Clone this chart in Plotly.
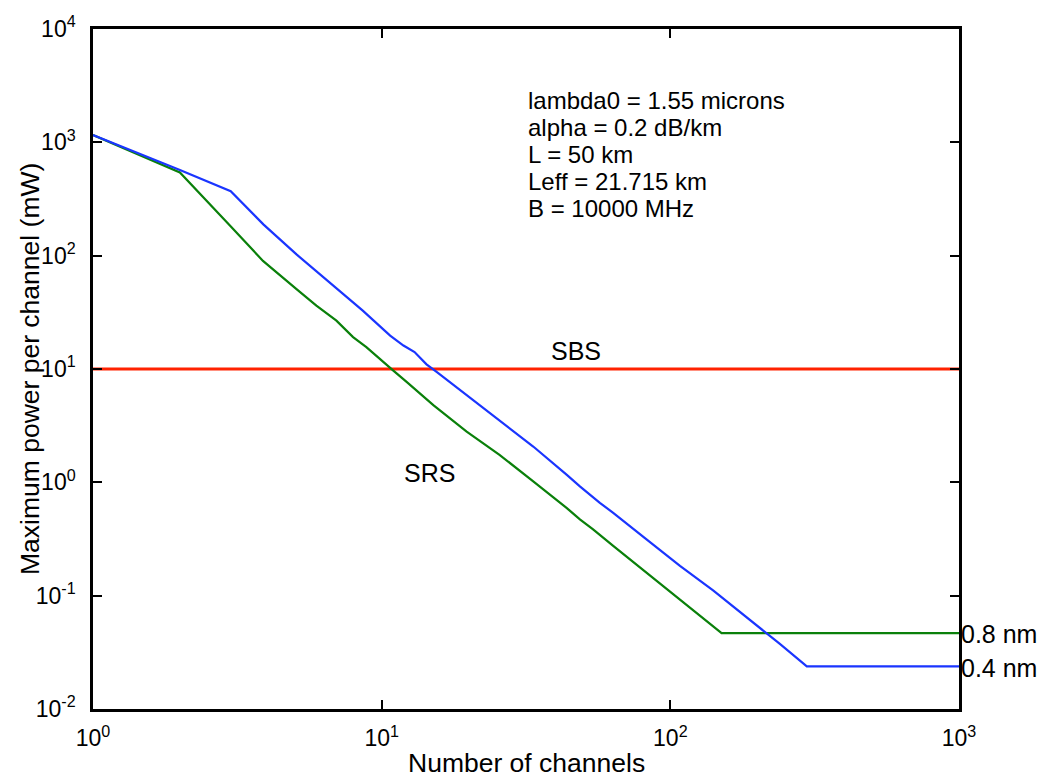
import plotly.graph_objects as go
import math

# Number of channels / max power per channel (mW)
n_04 = [1, 2, 3, 3.9, 5.07, 6.6, 8.6, 10.7, 11.9, 13.0, 14.3, 15.5, 19.7, 25.6,
        33.5, 43.7, 48.6, 57.0, 63.4, 82.7, 108, 141, 184, 239, 297, 1000]
p_04 = [1159, 571, 370, 188, 102.6, 58, 32.7, 19.7, 16.1, 14.1, 11.0, 9.41, 5.88, 3.55,
        2.07, 1.17, 0.922, 0.659, 0.538, 0.314, 0.183, 0.1106, 0.0645, 0.0377, 0.0238, 0.0238]

n_08 = [1, 2, 2.98, 3.88, 5.07, 5.94, 6.97, 7.96, 8.85, 10.1, 10.95, 12.2, 15.1, 19.7,
        25.6, 33.5, 43.7, 48.6, 54.0, 63.4, 82.7, 108, 133.5, 150.5, 1000]
p_08 = [1159, 542, 185, 89.8, 50.7, 36.2, 26.7, 19.1, 15.6, 11.5, 9.73, 7.69, 4.80, 2.80,
        1.75, 1.02, 0.596, 0.471, 0.385, 0.275, 0.159, 0.0935, 0.0604, 0.0468, 0.0468]

n_sbs = [1, 1000]
p_sbs = [10, 10]

x_ticks = [1, 10, 100, 1000]
x_tick_text = ["10<sup>0</sup>", "10<sup>1</sup>", "10<sup>2</sup>", "10<sup>3</sup>"]
y_ticks = [0.01, 0.1, 1, 10, 100, 1000, 10000]
y_tick_text = ["10<sup>-2</sup>", "10<sup>-1</sup>", "10<sup>0</sup>", "10<sup>1</sup>",
               "10<sup>2</sup>", "10<sup>3</sup>", "10<sup>4</sup>"]

info_lines = ["lambda0 = 1.55 microns", "alpha = 0.2 dB/km", "L = 50 km",
              "Leff = 21.715 km", "B = 10000 MHz"]
info_y = [2335, 1350, 780, 450, 260]  # data-space y of each info line

x_title = "Number of channels"
y_title = "Maximum power per channel (mW)"

FONT = "Liberation Sans"

fig = go.Figure()
fig.add_trace(go.Scatter(x=n_sbs, y=p_sbs, mode="lines",
                         line=dict(color="#ff2200", width=3), showlegend=False))
fig.add_trace(go.Scatter(x=n_08, y=p_08, mode="lines",
                         line=dict(color="#0a800a", width=2.2), showlegend=False))
fig.add_trace(go.Scatter(x=n_04, y=p_04, mode="lines",
                         line=dict(color="#1a35ff", width=2.2), showlegend=False))

txtfont = dict(size=25, color="black", family=FONT)
infofont = dict(size=24, color="black", family=FONT)
annotations = []
for txt, yv in zip(info_lines, info_y):
    annotations.append(dict(x=math.log10(31.8), y=math.log10(yv), xref="x", yref="y",
                            text=txt, showarrow=False, xanchor="left", yanchor="middle",
                            borderpad=0, font=infofont))
annotations += [
    dict(x=math.log10(47), y=math.log10(14.4), xref="x", yref="y", text="SBS",
         showarrow=False, font=txtfont),
    dict(x=math.log10(14.7), y=math.log10(1.2), xref="x", yref="y", text="SRS",
         showarrow=False, font=txtfont),
    dict(x=3.0, y=math.log10(0.0455), xref="x", yref="y", text="0.8 nm",
         showarrow=False, xanchor="left", yanchor="middle", font=txtfont),
    dict(x=3.0, y=math.log10(0.0232), xref="x", yref="y", text="0.4 nm",
         showarrow=False, xanchor="left", yanchor="middle", font=txtfont),
    # axis titles
    dict(x=0.5, y=-0.079, xref="paper", yref="paper", text=x_title, showarrow=False,
         xanchor="center", yanchor="middle",
         font=dict(size=26.5, color="black", family=FONT)),
    dict(x=-0.0727, y=0.5, xref="paper", yref="paper", text=y_title, showarrow=False,
         textangle=-90, xanchor="center", yanchor="middle",
         font=dict(size=26.5, color="black", family=FONT)),
]

axis_common = dict(type="log", showgrid=False, zeroline=False, showline=True,
                   linecolor="black", linewidth=2.5, mirror="ticks",
                   ticks="inside", ticklen=9, tickwidth=2, tickcolor="black",
                   tickfont=dict(size=23, color="black", family=FONT))

fig.update_layout(
    width=1046, height=778,
    margin=dict(l=93, r=87, t=25, b=69),
    plot_bgcolor="white", paper_bgcolor="white",
    font=dict(family=FONT, color="black"),
    xaxis=dict(axis_common, range=[0, 3], tickvals=x_ticks, ticktext=x_tick_text,
               ticklabelstandoff=7),
    yaxis=dict(axis_common, range=[-2, 4], tickvals=y_ticks, ticktext=y_tick_text,
               ticklabelstandoff=10),
    annotations=annotations,
)

fig.write_html("out.html", config={"displayModeBar": False},
               post_script="document.body.style.margin='0px';document.body.style.overflow='hidden';")
